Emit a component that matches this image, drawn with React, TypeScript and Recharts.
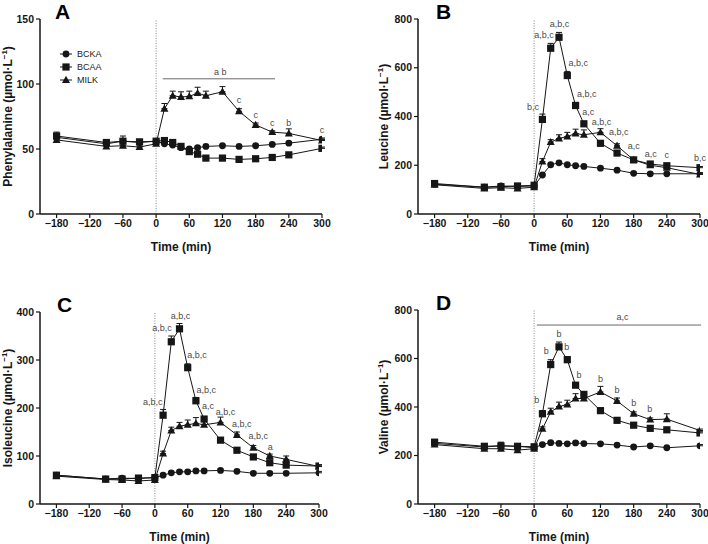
import React from "react";
import {
  ErrorBar,
  Label,
  Legend,
  Line,
  LineChart,
  ReferenceDot,
  ReferenceLine,
  XAxis,
  YAxis,
} from "recharts";

// sampling times (min)
const TIMES = [-180, -90, -60, -30, 0, 15, 30, 45, 60, 75, 90, 120, 150, 180, 210, 240, 300];
const X_TICKS = [-180, -120, -60, 0, 60, 120, 180, 240, 300];

// A – phenylalanine
const pheBCKA = [59, 54, 56, 55, 56, 54, 53, 51, 50, 51, 52, 52.5, 52, 52.5, 53.5, 54.5, 57.5];
const pheBCAA = [60, 55, 56, 55.5, 56, 56.5, 55, 52, 48, 46, 43, 43, 42, 42.5, 43.5, 45.5, 50.5];
const pheMILK = [57, 52, 52.5, 51.5, 54, 81, 91, 90, 90.5, 93, 91, 94, 79, 68.5, 63, 62, 56.5];
const pheBCKASem = [2, 1.5, 4, 1.5, 1.5, 1, 1, 1, 1, 1, 1, 1, 1, 1, 1, 1, 1];
const pheBCAASem = [3, 2, 2, 1.5, 1.5, 1.5, 1.5, 1, 1, 1, 1, 1, 1, 1, 1, 1, 1];
const pheMILKSem = [1.5, 1.5, 1.5, 1.5, 1.5, 4, 3.5, 4, 4, 4.5, 3.5, 4, 2, 1.5, 1, 3.5, 1];
const pheLabels = [
  { t: 116, v: 109, text: "a b" },
  { t: 150, v: 88, text: "c" },
  { t: 180, v: 76.5, text: "c" },
  { t: 210, v: 70, text: "c" },
  { t: 240, v: 70, text: "b" },
  { t: 300, v: 64.5, text: "c" },
];
const pheBar = { from: 12, to: 215, v: 104 };

// B – leucine
const leuBCKA = [122, 110, 115, 113, 115, 160, 202, 210, 202, 198, 195, 188, 180, 167, 165, 165, 165];
const leuBCAA = [125, 110, 112, 115, 118, 388, 680, 725, 568, 445, 370, 290, 250, 222, 205, 198, 190];
const leuMILK = [120, 105, 108, 105, 110, 215, 295, 310, 318, 330, 325, 335, 280, 222, 200, 190, 162];
const leuBCKASem = [5, 5, 5, 5, 5, 5, 5, 5, 5, 5, 5, 5, 5, 5, 5, 5, 5];
const leuBCAASem = [10, 8, 8, 8, 8, 22, 20, 20, 17, 13, 10, 8, 6, 5, 5, 5, 5];
const leuMILKSem = [5, 5, 5, 5, 5, 12, 10, 15, 17, 18, 20, 15, 8, 6, 5, 5, 5];
const leuLabels = [
  { t: -2, v: 441, text: "b,c" },
  { t: 18, v: 736, text: "a,b,c" },
  { t: 46, v: 781, text: "a,b,c" },
  { t: 80, v: 619, text: "a,b,c" },
  { t: 95, v: 492, text: "a,b,c" },
  { t: 98, v: 420, text: "a,c" },
  { t: 122, v: 380, text: "a,b,c" },
  { t: 153, v: 338, text: "a,b,c" },
  { t: 180, v: 281, text: "a,c" },
  { t: 211, v: 249, text: "a,c" },
  { t: 240, v: 242, text: "c" },
  { t: 300, v: 229, text: "b,c" },
];

// C – isoleucine
const ileBCKA = [60, 52, 54, 53, 55, 60, 65, 67, 67, 69, 69, 70, 68, 64, 64, 64, 65];
const ileBCAA = [60, 52, 52, 54, 55, 185, 338, 365, 284, 215, 177, 133, 112, 98, 86, 81, 79];
const ileMILK = [58, 51, 50, 48, 50, 105, 153, 162, 165, 168, 165, 170, 144, 117, 100, 93, 78];
const ileBCKASem = [3, 3, 3, 3, 3, 3, 3, 3, 3, 3, 3, 3, 3, 3, 3, 3, 3];
const ileBCAASem = [3, 3, 3, 3, 3, 12, 12, 11, 8, 7, 5, 4, 3, 3, 3, 3, 3];
const ileMILKSem = [3, 3, 3, 5, 3, 5, 7, 8, 10, 12, 11, 11, 6, 5, 4, 7, 3];
const ileLabels = [
  { t: -4, v: 213, text: "a,b,c" },
  { t: 13, v: 367, text: "a,b,c" },
  { t: 47, v: 393, text: "a,b,c" },
  { t: 77, v: 311, text: "a,b,c" },
  { t: 94, v: 237, text: "a,b,c" },
  { t: 97, v: 204, text: "a,c" },
  { t: 129, v: 193, text: "a,b,c" },
  { t: 159, v: 168, text: "a,b,c" },
  { t: 189, v: 142, text: "a,b,c" },
  { t: 211, v: 119, text: "a" },
];

// D – valine
const valBCKA = [250, 235, 240, 238, 232, 245, 253, 250, 248, 252, 249, 248, 243, 235, 240, 232, 240];
const valBCAA = [255, 238, 240, 238, 236, 372, 575, 648, 595, 490, 452, 385, 345, 325, 312, 306, 293];
const valMILK = [245, 228, 228, 222, 228, 310, 380, 402, 410, 435, 435, 462, 425, 372, 348, 350, 303];
const valBCKASem = [5, 5, 5, 5, 5, 5, 5, 5, 5, 5, 5, 5, 5, 5, 5, 5, 5];
const valBCAASem = [8, 8, 15, 8, 8, 13, 20, 20, 13, 10, 8, 6, 5, 5, 5, 5, 5];
const valMILKSem = [8, 8, 8, 8, 8, 8, 15, 18, 18, 20, 12, 23, 12, 8, 7, 22, 6];
const valLabels = [
  { t: 160, v: 770, text: "a,c" },
  { t: 5, v: 429, text: "b" },
  { t: 22, v: 632, text: "b" },
  { t: 45, v: 701, text: "b" },
  { t: 59, v: 649, text: "b" },
  { t: 81, v: 532, text: "b" },
  { t: 120, v: 515, text: "b" },
  { t: 150, v: 470, text: "b" },
  { t: 180, v: 418, text: "b" },
  { t: 209, v: 394, text: "b" },
];
const valBar = { from: 5, to: 302, v: 738 };

const legendItems = [
  { name: "BCKA", shape: "circle" },
  { name: "BCAA", shape: "square" },
  { name: "MILK", shape: "triangle" },
];

const FONT = "'Liberation Sans', Arial, Helvetica, sans-serif";
const INK = "#161616";

function buildRows(a: number[], b: number[], m: number[], ae: number[], be: number[], me: number[]) {
  return TIMES.map((t, i) => ({
    t,
    bcka: a[i],
    bcaa: b[i],
    milk: m[i],
    bckaE: [0, ae[i]],
    bcaaE: [0, be[i]],
    milkE: [0, me[i]],
  }));
}

function Marker({ shape, cx, cy }: { shape: string; cx: number; cy: number }) {
  if (shape === "circle") return <circle cx={cx} cy={cy} r={3.4} fill={INK} />;
  if (shape === "square") return <rect x={cx - 3.6} y={cy - 3.6} width={7.2} height={7.2} fill={INK} />;
  return <polygon points={`${cx},${cy - 4.2} ${cx + 4},${cy + 3} ${cx - 4},${cy + 3}`} fill={INK} />;
}

const dotFor = (shape: string) => (p: any) => {
  if (p.cx == null || p.cy == null) return <g key={`e-${shape}-${p.index}`} />;
  return (
    <g key={`d-${shape}-${p.index}`}>
      <Marker shape={shape} cx={p.cx} cy={p.cy} />
    </g>
  );
};

const minusFormat = (v: number) => (v < 0 ? `\u2212${Math.abs(v)}` : `${v}`);

function LegendBox() {
  return (
    <div style={{ fontFamily: FONT, fontSize: 9, color: "#222" }}>
      {legendItems.map((it) => (
        <div key={it.name} style={{ display: "flex", alignItems: "center", height: 13 }}>
          <svg width={14} height={10} style={{ marginRight: 3 }}>
            <line x1={0} y1={5} x2={12} y2={5} stroke={INK} strokeWidth={1} />
            <Marker shape={it.shape} cx={6} cy={5} />
          </svg>
          <span>{it.name}</span>
        </div>
      ))}
    </div>
  );
}

type PanelProps = {
  left: number;
  top: number;
  letter: string;
  letterX: number;
  marginTop: number;
  marginRight: number;
  marginBottom: number;
  yWidth: number;
  yLabelDx: number;
  yMax: number;
  yTicks: number[];
  yLabel: string;
  rows: any[];
  labels: { t: number; v: number; text: string }[];
  bar?: { from: number; to: number; v: number };
  legend?: boolean;
};

const W = 354;
const H = 272;
const X_H = 26;

function Panel(p: PanelProps) {
  const plotLeft = p.yWidth;
  const plotW = W - p.yWidth - p.marginRight;
  const plotTop = p.marginTop;
  const plotH = H - p.marginTop - p.marginBottom - X_H;
  const plotBottom = plotTop + plotH;

  const yLabelContent = () => {
    const cx = plotLeft - p.yLabelDx;
    const cy = plotTop + plotH / 2;
    return (
      <text
        x={cx}
        y={cy}
        transform={`rotate(-90 ${cx} ${cy})`}
        textAnchor="middle"
        dominantBaseline="central"
        fontFamily={FONT}
        fontWeight={700}
        fontSize={12}
        fill={INK}
      >
        {p.yLabel} (µmol·L
        <tspan dy={-4} fontSize={8}>
          −1
        </tspan>
        <tspan dy={4}>)</tspan>
      </text>
    );
  };

  const xLabelContent = () => (
    <text
      x={plotLeft + plotW / 2}
      y={plotBottom + 33}
      textAnchor="middle"
      dominantBaseline="central"
      fontFamily={FONT}
      fontWeight={700}
      fontSize={12}
      fill={INK}
    >
      Time (min)
    </text>
  );

  const tickStyle = { fontSize: 10.5, fontWeight: 700, fill: INK, fontFamily: FONT };
  const axisLine = { stroke: INK, strokeWidth: 1.5 };

  return (
    <div style={{ position: "absolute", left: p.left, top: p.top, width: W, height: H }}>
      <LineChart
        width={W}
        height={H}
        data={p.rows}
        margin={{ top: p.marginTop, right: p.marginRight, bottom: p.marginBottom, left: 0 }}
      >
        <XAxis
          type="number"
          dataKey="t"
          domain={[-210, 300]}
          ticks={X_TICKS}
          tickFormatter={minusFormat}
          axisLine={axisLine}
          tickLine={{ stroke: INK, strokeWidth: 1.2 }}
          tickSize={4}
          tick={tickStyle}
          height={X_H}
          allowDataOverflow
        >
          <Label content={xLabelContent} />
        </XAxis>
        <YAxis
          type="number"
          domain={[0, p.yMax]}
          ticks={p.yTicks}
          axisLine={axisLine}
          tickLine={{ stroke: INK, strokeWidth: 1.2 }}
          tickSize={4}
          tick={tickStyle}
          width={p.yWidth}
          allowDataOverflow
        >
          <Label content={yLabelContent} />
        </YAxis>
        <ReferenceLine x={0} stroke="#8a8a8a" strokeWidth={1} strokeDasharray="1 1.5" />
        {p.bar && (
          <ReferenceLine
            segment={[
              { x: p.bar.from, y: p.bar.v },
              { x: p.bar.to, y: p.bar.v },
            ]}
            stroke="#6a6a6a"
            strokeWidth={1}
            ifOverflow="visible"
          />
        )}
        <Line
          dataKey="bcka"
          stroke={INK}
          strokeWidth={1}
          dot={dotFor("circle")}
          activeDot={false}
          isAnimationActive={false}
        >
          <ErrorBar dataKey="bckaE" width={3} stroke={INK} strokeWidth={1} direction="y" isAnimationActive={false} />
        </Line>
        <Line
          dataKey="bcaa"
          stroke={INK}
          strokeWidth={1}
          dot={dotFor("square")}
          activeDot={false}
          isAnimationActive={false}
        >
          <ErrorBar dataKey="bcaaE" width={3} stroke={INK} strokeWidth={1} direction="y" isAnimationActive={false} />
        </Line>
        <Line
          dataKey="milk"
          stroke={INK}
          strokeWidth={1}
          dot={dotFor("triangle")}
          activeDot={false}
          isAnimationActive={false}
        >
          <ErrorBar dataKey="milkE" width={3} stroke={INK} strokeWidth={1} direction="y" isAnimationActive={false} />
        </Line>
        {p.labels.map((l, i) => (
          <ReferenceDot
            key={`lab-${i}`}
            x={l.t}
            y={l.v}
            r={0}
            fill="none"
            stroke="none"
            ifOverflow="visible"
            label={{ value: l.text, position: "center", fill: "#4a4a4a", fontSize: 9, fontFamily: FONT }}
          />
        ))}
        {p.legend && (
          <Legend
            layout="vertical"
            align="center"
            verticalAlign="middle"
            wrapperStyle={{ left: 60, top: 47, width: 70 }}
            content={() => <LegendBox />}
          />
        )}
      </LineChart>
      <div
        style={{
          position: "absolute",
          left: p.letterX,
          top: p.marginTop - 18,
          fontFamily: FONT,
          fontWeight: 700,
          fontSize: 21,
          lineHeight: "21px",
          color: "#000",
        }}
      >
        {p.letter}
      </div>
    </div>
  );
}

export default function App() {
  return (
    <div style={{ position: "absolute", left: 0, top: 0, width: 708, height: 544, background: "#fff" }}>
      <Panel
        left={0}
        top={0}
        letter="A"
        letterX={55}
        marginTop={19}
        marginRight={32}
        marginBottom={32}
        yWidth={40}
        yLabelDx={32}
        yMax={150}
        yTicks={[0, 50, 100, 150]}
        yLabel="Phenylalanine"
        rows={buildRows(pheBCKA, pheBCAA, pheMILK, pheBCKASem, pheBCAASem, pheMILKSem)}
        labels={pheLabels}
        bar={pheBar}
        legend
      />
      <Panel
        left={354}
        top={0}
        letter="B"
        letterX={82}
        marginTop={19}
        marginRight={8}
        marginBottom={32}
        yWidth={64}
        yLabelDx={34.5}
        yMax={800}
        yTicks={[0, 200, 400, 600, 800]}
        yLabel="Leucine"
        rows={buildRows(leuBCKA, leuBCAA, leuMILK, leuBCKASem, leuBCAASem, leuMILKSem)}
        labels={leuLabels}
      />
      <Panel
        left={0}
        top={272}
        letter="C"
        letterX={57}
        marginTop={40}
        marginRight={35}
        marginBottom={14}
        yWidth={40}
        yLabelDx={32}
        yMax={400}
        yTicks={[0, 100, 200, 300, 400]}
        yLabel="Isoleucine"
        rows={buildRows(ileBCKA, ileBCAA, ileMILK, ileBCKASem, ileBCAASem, ileMILKSem)}
        labels={ileLabels}
      />
      <Panel
        left={354}
        top={272}
        letter="D"
        letterX={82}
        marginTop={38}
        marginRight={8}
        marginBottom={14}
        yWidth={64}
        yLabelDx={34.5}
        yMax={800}
        yTicks={[0, 200, 400, 600, 800]}
        yLabel="Valine"
        rows={buildRows(valBCKA, valBCAA, valMILK, valBCKASem, valBCAASem, valMILKSem)}
        labels={valLabels}
        bar={valBar}
      />
    </div>
  );
}
